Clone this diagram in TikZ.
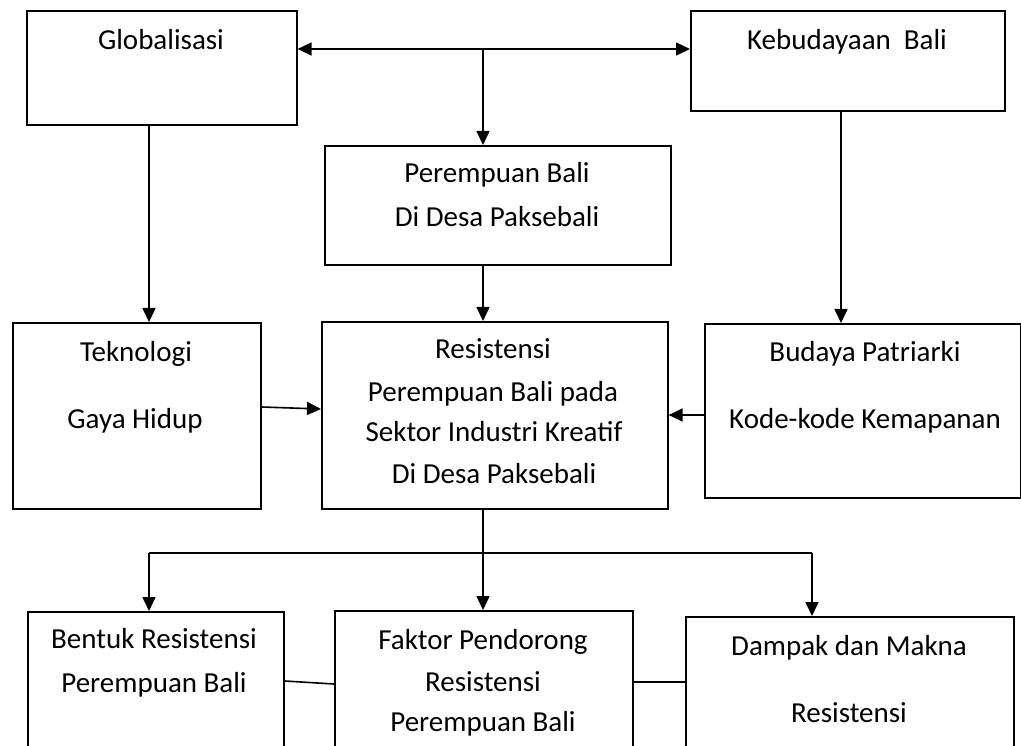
\documentclass[tikz,border=0pt]{standalone}
\usepackage{fontspec}
\setmainfont{Carlito}
\usetikzlibrary{arrows.meta}
\begin{document}
\begin{tikzpicture}[x=1pt,y=-1pt,
  box/.style={draw=black,line width=1.6pt,rectangle,inner sep=0pt,anchor=north west},
  txt/.style={inner sep=0pt,font=\fontsize{29}{29}\selectfont,anchor=base},
  conn/.style={line width=1.6pt},
  arr/.style={line width=1.6pt,-{Triangle[length=14pt,width=13pt]}},
  darr/.style={line width=1.6pt,{Triangle[length=14pt,width=13pt]}-{Triangle[length=14pt,width=13pt]}}]
\useasboundingbox (0,0) rectangle (1021,746);
\clip (0,0) rectangle (1021,746);
% boxes
\node[box,minimum width=270pt,minimum height=114pt] (glob) at (26,10) {};
\node[box,minimum width=314pt,minimum height=100pt] (kebu) at (690,10) {};
\node[box,minimum width=346pt,minimum height=119pt] (pere) at (324,145) {};
\node[box,minimum width=248pt,minimum height=186pt] (tekn) at (12,322) {};
\node[box,minimum width=346pt,minimum height=187pt] (resi) at (321,321) {};
\node[box,minimum width=316pt,minimum height=174pt] (buda) at (704,323) {};
\node[box,minimum width=256pt,minimum height=200pt] (bent) at (27,611) {};
\node[box,minimum width=298pt,minimum height=200pt] (fakt) at (334,610) {};
\node[box,minimum width=328pt,minimum height=200pt] (damp) at (685,616) {};
% texts (baselines)
\node[txt] (tglob) at (161,50) {Globalisasi};
\node[txt] (tkebu) at (847,50) {Kebudayaan\hspace{0.45em}Bali};
\node[txt] (tpere1) at (497,183) {Perempuan Bali};
\node[txt] (tpere2) at (497,227) {Di Desa Paksebali};
\node[txt] (ttek1) at (136,361) {Teknologi};
\node[txt] (ttek2) at (135,428) {Gaya Hidup};
\node[txt] (tres1) at (493,359) {Resistensi};
\node[txt] (tres2) at (493,401) {Perempuan Bali pada};
\node[txt] (tres3) at (494,441) {Sektor Industri Kreatif};
\node[txt] (tres4) at (494,483) {Di Desa Paksebali};
\node[txt] (tbud1) at (865,361) {Budaya Patriarki};
\node[txt] (tbud2) at (865,428) {Kode-kode Kemapanan};
\node[txt] (tben1) at (154,648) {Bentuk Resistensi};
\node[txt] (tben2) at (154,692) {Perempuan Bali};
\node[txt] (tfak1) at (483,649) {Faktor Pendorong};
\node[txt] (tfak2) at (483,691) {Resistensi};
\node[txt] (tfak3) at (483,731) {Perempuan Bali};
\node[txt] (tdam1) at (849,655) {Dampak dan Makna};
\node[txt] (tdam2) at (849,722) {Resistensi};
% coordinates
\coordinate (jtop) at (483,49);
\coordinate (jbot) at (483,553);
\coordinate (jl) at (149,553);
\coordinate (jr) at (812,553);
% connectors
\draw[darr] (glob.east |- jtop) -- (kebu.west |- jtop);
\draw[arr] (jtop) -- (pere.north -| jtop);
\draw[arr] (glob.south -| jl) -- (tekn.north -| jl);
\draw[arr] (kebu.south -| 841,0) -- (buda.north -| 841,0);
\draw[arr] (pere.south -| jtop) -- (resi.north -| jtop);
\draw[arr] (tekn.east |- 0,407) -- (resi.west |- 0,409);
\draw[arr] (buda.west |- 0,415) -- (resi.east |- 0,415);
\draw[arr] (resi.south -| jbot) -- (fakt.north -| jbot);
\draw[conn] (jl) -- (jr);
\draw[arr] (jl) -- (bent.north -| jl);
\draw[arr] (jr) -- (damp.north -| jr);
\draw[conn] (bent.east |- 0,681) -- (fakt.west |- 0,684);
\draw[conn] (fakt.east |- 0,682) -- (damp.west |- 0,682);
\end{tikzpicture}
\end{document}
